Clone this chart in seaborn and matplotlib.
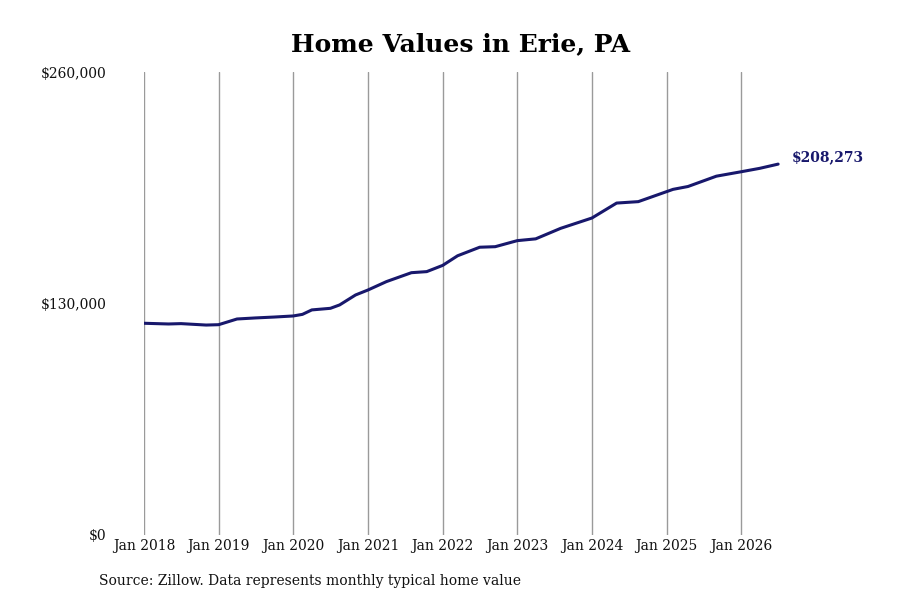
import seaborn as sns
import matplotlib.pyplot as plt
import matplotlib.dates as mdates
import matplotlib.ticker as mticker
import numpy as np
import pandas as pd

# values (typical home value, $)
dates = ["2018-01-01", "2018-05-01", "2018-07-01", "2018-11-01",
         "2019-01-01", "2019-04-01", "2019-07-01", "2019-10-01",
         "2020-01-01", "2020-02-15", "2020-04-01", "2020-07-01", "2020-08-15", "2020-11-01",
         "2021-01-01", "2021-04-01", "2021-08-01", "2021-10-15",
         "2022-01-01", "2022-03-15", "2022-07-01", "2022-09-15",
         "2023-01-01", "2023-04-01", "2023-08-01",
         "2024-01-01", "2024-05-01", "2024-08-15",
         "2025-02-01", "2025-04-15", "2025-09-01",
         "2026-01-01", "2026-04-01", "2026-06-30"]
values = [118900, 118500, 118700, 117900,
          118100, 121300, 121900, 122400,
          123000, 123900, 126400, 127300, 129200, 134800,
          137600, 142300, 147300, 147900,
          151400, 156800, 161600, 161900,
          165300, 166300, 172200,
          178000, 186400, 187200,
          194100, 195700, 201500,
          204000, 205900, 208273]

year_ticks = [f"{y}-01-01" for y in range(2018, 2027)]
y_ticks = [0, 130000, 260000]

df = pd.DataFrame({"date": pd.to_datetime(dates), "value": values})

sns.set_theme(style="white")
plt.rcParams['font.family'] = ['DejaVu Serif']

fig = plt.figure(figsize=(9, 6), dpi=100)
ax = fig.add_axes([144/900, 65/600, 647/900, 463/600])

sns.lineplot(data=df, x="date", y="value", color="#18186c", linewidth=2.2, ax=ax)

ax.set_xlim(pd.Timestamp("2018-01-01"), pd.Timestamp("2026-09-01"))
ax.set_ylim(0, 260000)
ax.set_xticks(pd.to_datetime(year_ticks))
ax.xaxis.set_major_formatter(mdates.DateFormatter("Jan %Y"))
ax.set_yticks(y_ticks)
ax.yaxis.set_major_formatter(mticker.FuncFormatter(lambda v, p: f"${v:,.0f}"))
ax.tick_params(axis="x", length=0, pad=3, labelsize=10, colors="#111111")
ax.tick_params(axis="y", length=0, pad=27, labelsize=10, colors="#111111")
ax.grid(axis="x", color="#9a9a9a", linewidth=1)
ax.grid(axis="y", visible=False)
for s in ax.spines.values():
    s.set_visible(False)
ax.set_xlabel("")
ax.set_ylabel("")

ax.annotate(f"${values[-1]:,}", xy=(df["date"].iloc[-1], values[-1]),
            xytext=(10, 5), textcoords="offset points", ha="left", va="center",
            fontsize=10, fontweight="bold", color="#18186c", annotation_clip=False)

fig.text(461/900, 1 - 44/600, "Home Values in Erie, PA", ha="center", va="center",
         fontsize=18, fontweight="bold", color="#000000")
fig.text(99/900, 1 - 581/600, "Source: Zillow. Data represents monthly typical home value",
         ha="left", va="center", fontsize=10, color="#111111")

fig.savefig("out.png", dpi=100)
